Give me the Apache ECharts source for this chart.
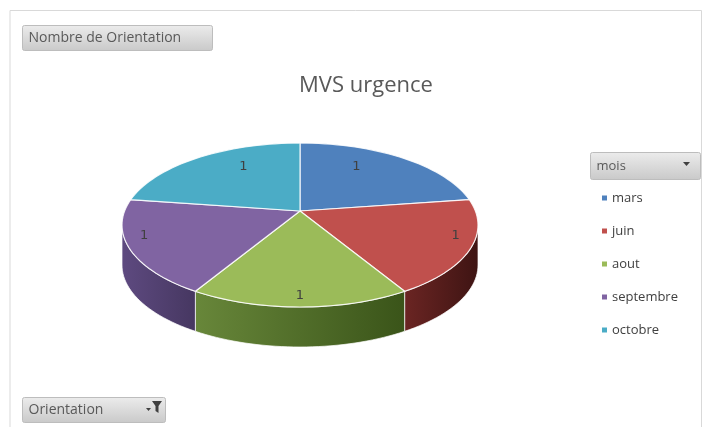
<!DOCTYPE html>
<html style="height: 100%">
<head>
    <meta charset="utf-8">
    <title>MVS urgence</title>
    <script src="https://cdn.jsdelivr.net/npm/echarts@6/dist/echarts.min.js"></script>
</head>
<body style="height: 100%; margin: 0; background: #fff">
<div id="main" style="width: 704px; height: 427px"></div>
<script type="text/javascript">

    // données
    var mois = ['mars', 'juin', 'aout', 'septembre', 'octobre'];
    var nombres = [1, 1, 1, 1, 1];
    var couleurs = ['#4F81BD', '#C0504D', '#9BBB59', '#8064A2', '#4BACC6'];
    var couleursCote = [
        ['#3a5f8c', '#2a4568'],
        ['#6b2523', '#3e1413'],
        ['#68873a', '#3a5419'],
        ['#5e4a80', '#463761'],
        ['#34859b', '#256273']
    ];

    var total = nombres.reduce(function (a, b) { return a + b; }, 0);
    var cumul = [];
    var s = 0;
    for (var k = 0; k < nombres.length; k++) { cumul.push(s); s += nombres[k]; }

    // géométrie du camembert "3D"
    var cx = 300, cy = 225, rx = 178, ry = 82, epaisseur = 40, sommetY = 211;

    function pt(deg, dy) {
        var a = deg * Math.PI / 180;
        return [cx + rx * Math.sin(a), cy - ry * Math.cos(a) + (dy || 0)];
    }

    function arc(d1, d2, dy) {
        var pts = [];
        var n = Math.max(2, Math.ceil((d2 - d1) / 2));
        for (var j = 0; j <= n; j++) pts.push(pt(d1 + (d2 - d1) * j / n, dy));
        return pts;
    }

    var myChart = echarts.init(document.getElementById('main'));

    var series = mois.map(function (nom, i) {
        return {
            name: nom,
            type: 'custom',
            coordinateSystem: 'none',
            itemStyle: { color: couleurs[i] },
            data: [[nombres[i]]],
            renderItem: function (params, api) {
                var v = api.value(0);
                var d1 = cumul[i] / total * 360;
                var d2 = d1 + v / total * 360;
                var enfants = [];
                // côté visible (moitié avant)
                var f1 = Math.max(d1, 90), f2 = Math.min(d2, 270);
                if (f2 > f1) {
                    var haut = arc(f1, f2, 0);
                    var bas = arc(f1, f2, epaisseur).reverse();
                    enfants.push({
                        type: 'polygon',
                        shape: { points: haut.concat(bas) },
                        style: {
                            fill: new echarts.graphic.LinearGradient(0, 0, 1, 0, [
                                { offset: 0, color: couleursCote[i][0] },
                                { offset: 1, color: couleursCote[i][1] }
                            ]),
                            stroke: 'rgba(255,255,255,0.7)',
                            lineWidth: 1
                        }
                    });
                }
                // dessus
                var dessus = [[cx, sommetY]].concat(arc(d1, d2, 0));
                enfants.push({
                    type: 'polygon',
                    shape: { points: dessus },
                    style: {
                        fill: couleurs[i],
                        stroke: 'rgba(255,255,255,0.85)',
                        lineWidth: 1.2
                    }
                });
                // étiquette
                var m = (d1 + d2) / 2 * Math.PI / 180;
                var cote = Math.abs(Math.sin(m)) > 0.8;
                var fx = cote ? 0.92 : 0.54;
                var fy = cote ? 0.87 : (Math.cos(m) > 0 ? 0.72 : 0.99);
                enfants.push({
                    type: 'text',
                    style: {
                        text: String(v),
                        x: cx + rx * fx * Math.sin(m),
                        y: 212 - ry * fy * Math.cos(m) + 2,
                        fill: '#404040',
                        font: '13px "DejaVu Sans"',
                        align: 'center',
                        verticalAlign: 'middle'
                    }
                });
                return { type: 'group', children: enfants };
            }
        };
    });

    function bouton(x, y, w, h, texte, taille) {
        return {
            type: 'group',
            left: x, top: y,
            children: [
                {
                    type: 'rect',
                    shape: { x: 0, y: 0, width: w, height: h, r: 2 },
                    style: {
                        fill: new echarts.graphic.LinearGradient(0, 0, 0, 1, [
                            { offset: 0, color: '#ececec' },
                            { offset: 1, color: '#c9c9c9' }
                        ]),
                        stroke: '#bdbdbd', lineWidth: 1
                    }
                },
                {
                    type: 'text',
                    style: {
                        text: texte, x: 6, y: h / 2,
                        verticalAlign: 'middle',
                        fill: '#595959',
                        font: taille + 'px "Open Sans"'
                    }
                }
            ]
        };
    }

    var option = {
        backgroundColor: '#ffffff',
        animation: false,
        title: {
            text: 'MVS urgence',
            left: 361,
            top: 70,
            textAlign: 'center',
            textStyle: { fontFamily: 'Open Sans', fontSize: 22, fontWeight: 'normal', color: '#595959' }
        },
        legend: {
            orient: 'vertical',
            left: 597,
            top: 186,
            icon: 'rect',
            itemWidth: 5,
            itemHeight: 5,
            itemGap: 19,
            textStyle: { fontFamily: 'Open Sans', fontSize: 13, color: '#404040', lineHeight: 14 },
            data: mois
        },
        graphic: [
            {
                type: 'polyline',
                shape: { points: [[10, 427], [10, 10.5], [701.5, 10.5], [701.5, 427]] },
                style: { stroke: '#d9d9d9', lineWidth: 1, fill: null }
            },
            bouton(22, 25, 190, 25, 'Nombre de Orientation', 14),
            bouton(22, 397, 143, 25, 'Orientation', 14),
            {
                type: 'polygon',
                left: 152, top: 401,
                shape: { points: [[0, 0], [10, 0], [6.5, 5], [6.5, 12], [3.5, 10], [3.5, 5]] },
                style: { fill: '#404040' }
            },
            {
                type: 'polygon',
                left: 146, top: 408,
                shape: { points: [[0, 0], [5, 0], [2.5, 3]] },
                style: { fill: '#404040' }
            },
            bouton(590, 152, 110, 27, 'mois', 13),
            {
                type: 'polygon',
                left: 683, top: 162,
                shape: { points: [[0, 0], [7, 0], [3.5, 4]] },
                style: { fill: '#404040' }
            }
        ],
        series: series
    };

    myChart.setOption(option);
</script>
</body>
</html>
